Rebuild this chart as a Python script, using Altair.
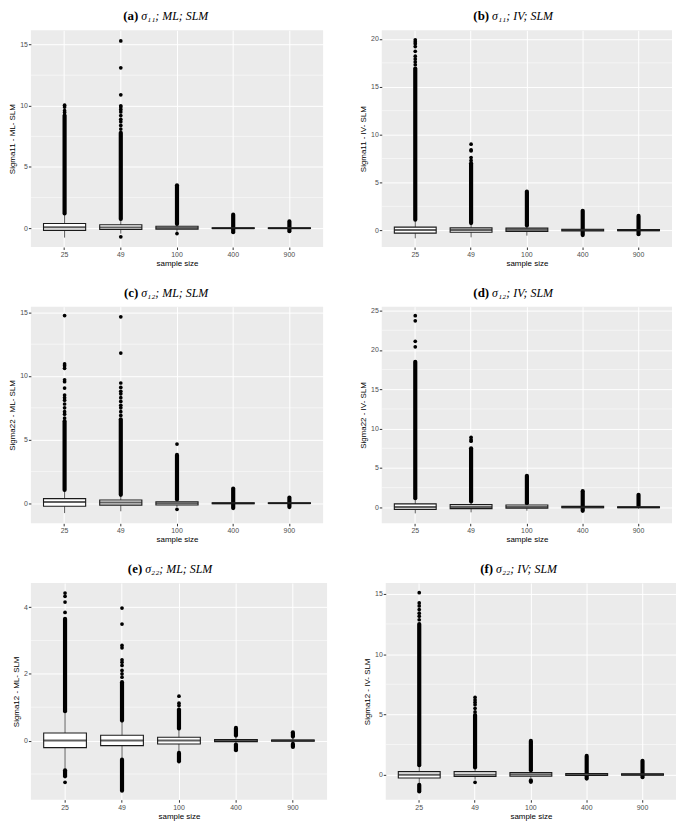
import altair as alt
import pandas as pd

CATS = ["25", "49", "100", "400", "900"]

LETTERS = ["(a)", "(b)", "(c)", "(d)", "(e)", "(f)"]
TITLES = ["σ₁₁; ML; SLM", "σ₁₁; IV; SLM", "σ₁₂; ML; SLM",
          "σ₁₂; IV; SLM", "σ₂₂; ML; SLM", "σ₂₂; IV; SLM"]
Y_TITLES = ["Sigma11 - ML- SLM", "Sigma11 - IV- SLM", "Sigma22 - ML- SLM",
            "Sigma22 - IV- SLM", "Sigma12 - ML- SLM", "Sigma12 - IV- SLM"]
Y_DOMAINS = [(-1.54, 16.17), (-1.75, 20.9), (-1.58, 15.45),
             (-2.04, 25.5), (-1.77, 4.72), (-2.08, 15.9)]
Y_MAJOR = [[0, 5, 10, 15], [0, 5, 10, 15, 20], [0, 5, 10, 15],
           [0, 5, 10, 15, 20, 25], [0, 2, 4], [0, 5, 10, 15]]
Y_MINOR = [[2.5, 7.5, 12.5], [2.5, 7.5, 12.5, 17.5], [2.5, 7.5, 12.5],
           [2.5, 7.5, 12.5, 17.5, 22.5], [-1, 1, 3], [2.5, 7.5, 12.5]]

# box statistics per sample size: q1, median, q3, lower whisker, upper whisker
Q1 = [[-0.18, -0.11, -0.09, -0.03, -0.02],
      [-0.30, -0.20, -0.12, -0.06, -0.04],
      [-0.24, -0.15, -0.14, -0.03, -0.02],
      [-0.26, -0.17, -0.13, -0.06, -0.04],
      [-0.21, -0.15, -0.10, -0.03, -0.02],
      [-0.28, -0.16, -0.14, -0.06, -0.04]]
MED = [[0.08, 0.06, 0.01, 0.0, 0.0],
       [0.02, 0.04, 0.05, 0.02, 0.01],
       [0.10, 0.05, 0.0, 0.0, 0.0],
       [0.05, 0.05, 0.05, 0.02, 0.01],
       [0.0, 0.0, 0.0, 0.0, 0.0],
       [0.0, 0.0, 0.02, 0.02, 0.01]]
Q3 = [[0.38, 0.28, 0.15, 0.04, 0.03],
      [0.33, 0.25, 0.22, 0.10, 0.07],
      [0.36, 0.26, 0.12, 0.04, 0.03],
      [0.43, 0.34, 0.30, 0.12, 0.08],
      [0.23, 0.16, 0.10, 0.03, 0.02],
      [0.25, 0.25, 0.17, 0.10, 0.07]]
WLO = [[-0.77, -0.45, -0.35, -0.12, -0.08],
       [-0.84, -0.74, -0.56, -0.20, -0.15],
       [-0.77, -0.63, -0.30, -0.12, -0.08],
       [-0.77, -0.64, -0.43, -0.20, -0.15],
       [-0.86, -0.52, -0.32, -0.10, -0.08],
       [-0.69, -0.42, -0.28, -0.20, -0.15]]
WHI = [[1.15, 0.70, 0.33, 0.12, 0.08],
       [1.05, 0.70, 0.45, 0.25, 0.20],
       [1.00, 0.62, 0.28, 0.12, 0.08],
       [1.10, 0.75, 0.50, 0.25, 0.20],
       [0.85, 0.55, 0.30, 0.10, 0.08],
       [0.72, 0.55, 0.33, 0.20, 0.15]]

# ranges where outliers overlap into a solid column: (sample size, low, high)
DENSE = [
    [("25", 1.2, 9.2), ("49", 0.75, 7.8), ("100", 0.35, 3.5),
     ("400", -0.33, 1.1), ("900", -0.25, 0.55)],
    [("25", 1.1, 16.9), ("49", 0.75, 7.0), ("100", 0.5, 4.05),
     ("400", -0.5, 2.04), ("900", -0.42, 1.5)],
    [("25", 1.05, 6.45), ("49", 0.66, 6.6), ("100", 0.3, 3.8),
     ("400", -0.38, 1.15), ("900", -0.3, 0.45)],
    [("25", 1.15, 18.5), ("49", 0.75, 7.5), ("100", 0.5, 4.0),
     ("400", -0.45, 2.05), ("900", 0.15, 1.6)],
    [("25", 0.88, 3.65), ("25", -1.07, -0.89), ("49", 0.6, 1.75),
     ("49", -1.5, -0.57), ("100", 0.36, 0.93), ("100", -0.62, -0.37),
     ("400", 0.15, 0.38), ("400", -0.29, -0.12), ("900", 0.12, 0.25),
     ("900", -0.19, -0.1)],
    [("25", 0.78, 12.5), ("25", -1.39, -0.84), ("49", 0.6, 4.95),
     ("100", 0.36, 2.8), ("100", -0.6, -0.48), ("400", -0.33, 1.55),
     ("900", -0.22, 1.15)],
]

# isolated outliers
SPARSE = [
    {"25": [9.45, 9.6, 9.9, 10.05],
     "49": [-0.71, 8.1, 8.4, 8.7, 8.9, 9.2, 9.5, 9.7, 9.9, 10.0, 10.9, 13.1, 15.3],
     "100": [-0.44]},
    {"25": [17.3, 17.6, 17.9, 18.2, 18.7, 19.2, 19.5, 19.7, 19.9],
     "49": [7.3, 7.6, 8.3, 8.4, 9.0]},
    {"25": [6.7, 7.0, 7.2, 7.5, 7.8, 8.1, 8.3, 8.5, 9.05, 9.55, 9.7,
            10.6, 10.8, 10.95, 14.75],
     "49": [6.9, 7.2, 7.5, 7.7, 8.0, 8.3, 8.6, 8.8, 9.1, 9.45, 11.8, 14.65],
     "100": [4.65, -0.48]},
    {"25": [20.4, 21.1, 23.7, 24.35],
     "49": [8.4, 8.6, 8.9]},
    {"25": [3.84, 4.15, 4.32, 4.42, -1.25],
     "49": [1.9, 2.0, 2.1, 2.25, 2.35, 2.42, 2.78, 2.85, 3.49, 3.97],
     "100": [1.05, 1.12, 1.33]},
    {"25": [12.85, 13.15, 13.4, 13.7, 14.0, 14.25, 15.1],
     "49": [5.2, 5.5, 5.8, 6.0, 6.2, 6.42, -0.64]},
]

FONT = "Liberation Sans"
H = 218


def panel(i, W):
    step = W / 5.2
    xs = alt.Scale(domain=CATS, paddingInner=0, paddingOuter=0.1)
    xaxis = alt.Axis(title="sample size", labelAngle=0, domain=False,
                     grid=True, gridColor="white", gridWidth=1,
                     bandPosition=0.5, tickSize=2.5, tickColor="#333333",
                     labelFontSize=7, labelColor="#4D4D4D", labelPadding=1,
                     titleFontSize=8, titleFont=FONT, labelFont=FONT,
                     titleFontWeight="normal", titleColor="black",
                     titlePadding=2)
    ys = alt.Scale(domain=list(Y_DOMAINS[i]), nice=False, zero=False)
    yaxis = alt.Axis(title=Y_TITLES[i], values=Y_MAJOR[i], domain=False,
                     grid=True, gridColor="white", gridWidth=1,
                     tickSize=2.5, tickColor="#333333", labelFontSize=7,
                     labelColor="#4D4D4D", labelPadding=1, titleFontSize=8,
                     titleFont=FONT, labelFont=FONT,
                     titleFontWeight="normal", titleColor="black",
                     titlePadding=3)

    def X():
        return alt.X("cat:N", scale=xs, axis=xaxis, sort=CATS)

    def Y(f):
        return alt.Y(f"{f}:Q", scale=ys, axis=yaxis)

    box = pd.DataFrame({"cat": CATS, "q1": Q1[i], "med": MED[i],
                        "q3": Q3[i], "wlo": WLO[i], "whi": WHI[i]})
    dense = pd.DataFrame(DENSE[i], columns=["cat", "lo", "hi"])
    sp = [(c, v) for c, vals in SPARSE[i].items() for v in vals]
    sparse = pd.DataFrame(sp, columns=["cat", "v"])
    minor = pd.DataFrame({"v": Y_MINOR[i]})

    minor_l = alt.Chart(minor).mark_rule(color="white", strokeWidth=0.5).encode(y=Y("v"))
    whisk = alt.Chart(box).mark_rule(color="#1a1a1a", strokeWidth=0.7).encode(
        x=X(), y=Y("wlo"), y2="whi")
    boxes = alt.Chart(box).mark_bar(width=alt.RelativeBandSize(0.75), fill="white",
                                    stroke="#1a1a1a", strokeWidth=1.1).encode(
        x=X(), y=Y("q1"), y2="q3")
    meds = alt.Chart(box).mark_tick(color="#1a1a1a", size=step * 0.75,
                                    thickness=2.0, orient="horizontal").encode(
        x=X(), y=Y("med"))
    dense_l = alt.Chart(dense).mark_rule(color="black", strokeWidth=4.2,
                                         strokeCap="round").encode(
        x=X(), y=Y("lo"), y2="hi")
    sparse_l = alt.Chart(sparse).mark_circle(color="black", size=14, opacity=1).encode(
        x=X(), y=Y("v"))

    lab = pd.DataFrame({"a": [LETTERS[i]], "b": [TITLES[i]]})
    cx = 108 if W < 297 else 112
    t1 = alt.Chart(lab).mark_text(font="Liberation Serif", fontSize=13,
                                  fontWeight="bold", align="right",
                                  baseline="middle", color="black").encode(
        text="a:N", x=alt.value(cx), y=alt.value(-14))
    t2 = alt.Chart(lab).mark_text(font="Liberation Serif", fontSize=12,
                                  fontStyle="italic", align="left",
                                  baseline="middle", color="black").encode(
        text="b:N", x=alt.value(cx + 3), y=alt.value(-14))

    return alt.layer(minor_l, whisk, dense_l, boxes, meds, sparse_l, t1, t2).properties(
        width=W, height=H)


rows = []
for r in range(3):
    wl = 298 if r == 2 else 294
    rows.append(alt.hconcat(panel(2 * r, wl), panel(2 * r + 1, 292), spacing=35))

chart = alt.vconcat(*rows, spacing=19).properties(
    padding={"left": 0, "top": 0, "right": 0, "bottom": 0},
    background="white",
).configure_view(fill="#EBEBEB", stroke=None)

chart.save("out.html", embed_options={"renderer": "svg", "actions": False})
